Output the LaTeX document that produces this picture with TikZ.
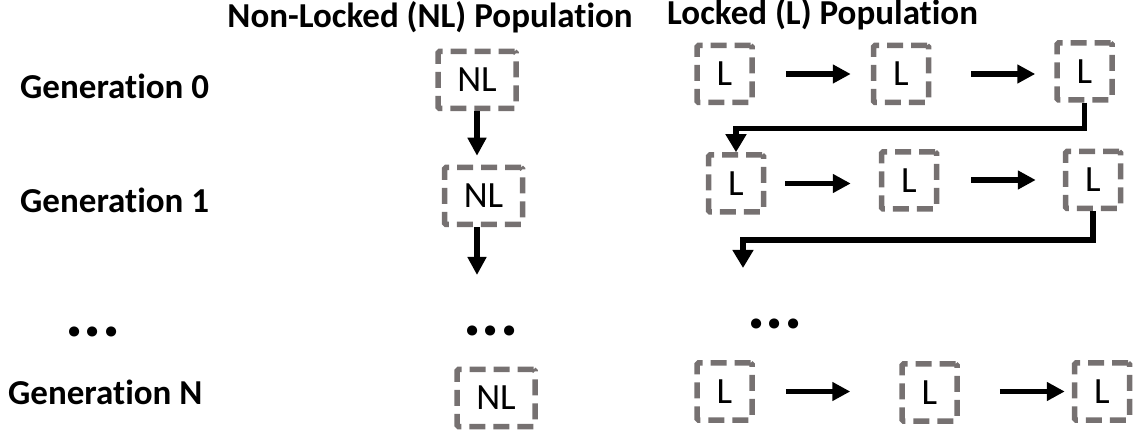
\documentclass[tikz,border=0pt]{standalone}
\usepackage{fontspec}
\setmainfont{Carlito}[RawFeature=-liga]
\usetikzlibrary{arrows.meta}
\definecolor{boxgray}{RGB}{118,113,113}
\begin{document}
\begin{tikzpicture}[x=1pt,y=-1pt,
  popbox/.style={draw=boxgray, line width=5.5pt, dash pattern=on 16pt off 8pt,
    rounded corners=1.5pt, inner sep=0pt, minimum height=57pt,
    font=\fontsize{37}{40}\selectfont},
  nlbox/.style={popbox, minimum width=78pt},
  lbox/.style={popbox, minimum width=55pt},
  flow/.style={line width=5.5pt, -{Triangle[length=18pt,width=18pt]}},
  elbow/.style={line width=5.5pt, -{Triangle[length=18pt,width=20pt]}},
  lab/.style={font=\bfseries\fontsize{35}{40}\selectfont, inner sep=0pt},
  dots/.style={font=\bfseries\fontsize{68}{70}\selectfont, inner sep=0pt}
]
\useasboundingbox (0,0) rectangle (1135,435);

% column headings
\node[lab, anchor=base] (hnl) at (430,28) {Non-Locked (NL) Population};
\node[lab, anchor=base west] (hl) at (667,25) {Locked (L) Population};

% row labels
\node[lab, anchor=base west] (g0) at (20,99) {Generation 0};
\node[lab, anchor=base west] (g1) at (20,213) {Generation 1};
\node[dots] (d0) at (93,332) {...};
\node[lab, anchor=base west] (gN) at (8,405) {Generation N};

% non-locked population
\node[nlbox] (nl0) at (477,80) {NL};
\node[nlbox] (nl1) at (483.5,196) {NL};
\node[dots] (d1) at (491,331) {...};
\node[nlbox] (nlN) at (496,398) {NL};
\coordinate (nlout) at (477,275);

\draw[flow, shorten >=9pt] (nl0.south) -- (nl0.south |- nl1.north);
\draw[flow] (nl1.south -| nlout) -- (nlout);

% locked population
\node[lbox] (l00) at (724.5,74) {L};
\node[lbox] (l01) at (901,74) {L};
\node[lbox] (l02) at (1084.5,71.5) {L};
\node[lbox] (l10) at (736,183.5) {L};
\node[lbox] (l11) at (909,180.5) {L};
\node[lbox] (l12) at (1093,180) {L};
\node[dots] (d2) at (775,324) {...};
\node[lbox] (lN0) at (724.5,391.5) {L};
\node[lbox] (lN1) at (929.5,392.5) {L};
\node[lbox] (lN2) at (1102,391.5) {L};
\coordinate (lout) at (743,268);

\draw[flow, shorten <=31pt, shorten >=20pt] (l00.east) -- (l00.east -| l01.west);
\draw[flow, shorten <=40pt, shorten >=19pt] (l01.east) -- (l01.east -| l02.west);
\draw[elbow] (l02.south) -- ++(0,26) -| (l10.north);

\draw[flow, shorten <=19pt, shorten >=28pt] (l10.east) -- (l10.east -| l11.west);
\draw[flow, shorten <=32pt, shorten >=27pt] (l11.east |- l12.west) -- (l12.west);
\draw[elbow] (l12.south) -- ++(0,29) -| (lout);

\draw[flow, shorten <=31pt, shorten >=49pt] (lN0.east) -- (lN0.east -| lN1.west);
\draw[flow, shorten <=40pt, shorten >=7pt] (lN1.east |- lN2.west) -- (lN2.west);
\end{tikzpicture}
\end{document}
